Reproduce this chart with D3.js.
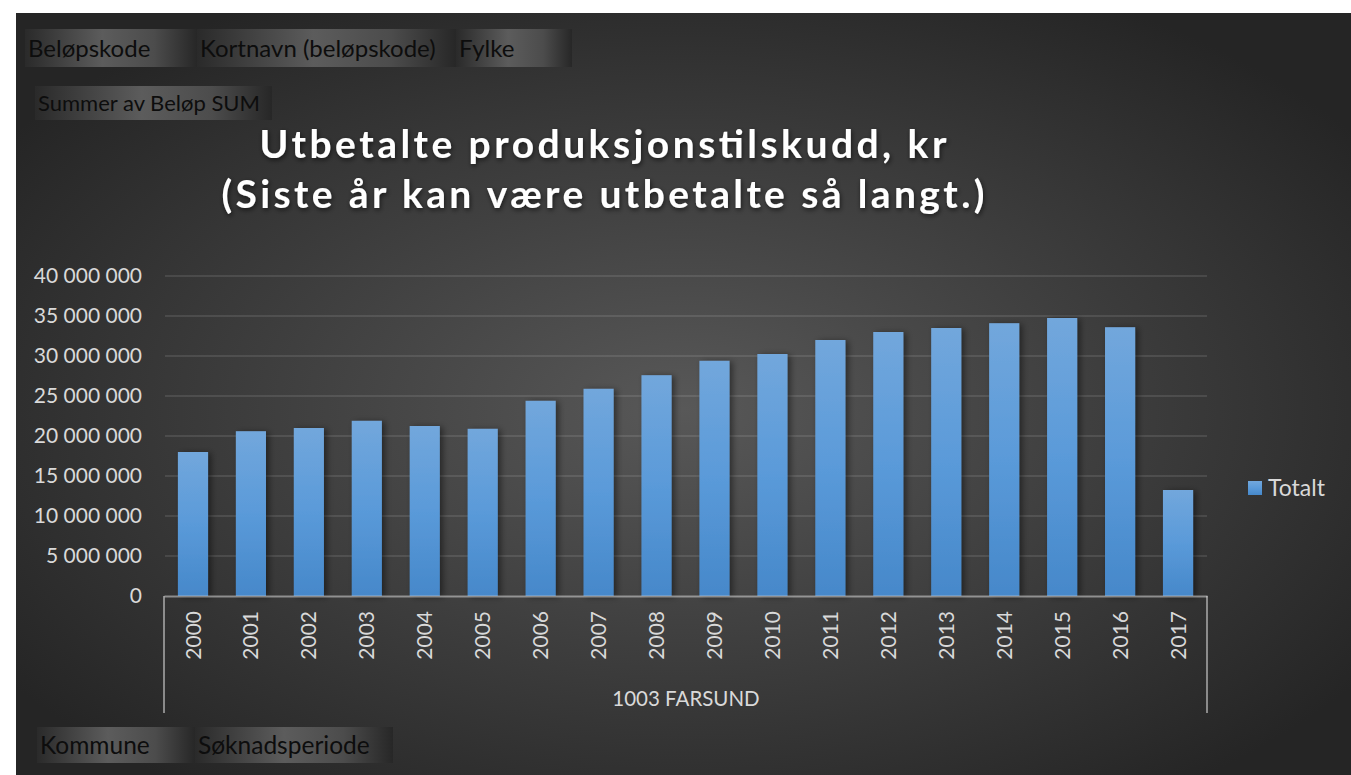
<!DOCTYPE html>
<html>
<head>
<meta charset="utf-8">
<script src="https://cdn.jsdelivr.net/npm/d3@7"></script>
<style>
  body { margin: 0; background: #fff; }
  svg { display: block; }
</style>
</head>
<body>
<svg id="chart" width="1351" height="775"></svg>
<script>
// data
const years = ["2000", "2001", "2002", "2003", "2004", "2005", "2006", "2007", "2008",
    "2009", "2010", "2011", "2012", "2013", "2014", "2015", "2016", "2017"];
const totals = [18000000, 20600000, 21000000, 21900000, 21250000, 20900000, 24400000,
    25900000, 27600000, 29400000, 30250000, 32000000, 33000000, 33500000, 34100000,
    34750000, 33600000, 13250000];
const yTicks = [0, 5000000, 10000000, 15000000, 20000000, 25000000, 30000000, 35000000, 40000000];
const seriesName = "Totalt";
const groupLabel = "1003 FARSUND";
const titleLines = ["Utbetalte produksjonstilskudd, kr", "(Siste år kan være utbetalte så langt.)"];
const topButtons = ["Beløpskode", "Kortnavn (beløpskode)", "Fylke"];
const valueButton = "Summer av Beløp SUM";
const bottomButtons = ["Kommune", "Søknadsperiode"];

const W = 1351, H = 775;
const font = "Lato, 'Open Sans', sans-serif";
const textColor = "#d9d9d9";
const plot = { left: 164, right: 1207, top: 276, bottom: 596 };

const svg = d3.select("#chart");
const defs = svg.append("defs");

// chart background: dark radial gradient
const bg = defs.append("radialGradient").attr("id", "bgGrad")
    .attr("cx", "50%").attr("cy", "52%").attr("r", "62%");
bg.append("stop").attr("offset", "0%").attr("stop-color", "#585858");
bg.append("stop").attr("offset", "100%").attr("stop-color", "#252525");

const barGrad = defs.append("linearGradient").attr("id", "barGrad")
    .attr("x1", 0).attr("y1", 0).attr("x2", 0).attr("y2", 1);
barGrad.append("stop").attr("offset", "0%").attr("stop-color", "#72a7dc");
barGrad.append("stop").attr("offset", "50%").attr("stop-color", "#5a9ad9");
barGrad.append("stop").attr("offset", "100%").attr("stop-color", "#4688ca");

const btnGrad = defs.append("linearGradient").attr("id", "btnGrad")
    .attr("x1", 0).attr("y1", 0).attr("x2", 1).attr("y2", 0);
btnGrad.append("stop").attr("offset", "0%").attr("stop-color", "#2a2a2a");
btnGrad.append("stop").attr("offset", "45%").attr("stop-color", "#5c5c5c");
btnGrad.append("stop").attr("offset", "75%").attr("stop-color", "#4c4c4c");
btnGrad.append("stop").attr("offset", "100%").attr("stop-color", "#272727");

const barShadow = defs.append("filter").attr("id", "barShadow")
    .attr("x", "-30%").attr("y", "-10%").attr("width", "170%").attr("height", "130%");
barShadow.append("feDropShadow").attr("dx", 3).attr("dy", 1).attr("stdDeviation", 3)
    .attr("flood-color", "#000").attr("flood-opacity", 0.45);

const titleShadow = defs.append("filter").attr("id", "titleShadow")
    .attr("x", "-10%").attr("y", "-30%").attr("width", "120%").attr("height", "160%");
titleShadow.append("feDropShadow").attr("dx", 1).attr("dy", 2).attr("stdDeviation", 2.5)
    .attr("flood-color", "#000").attr("flood-opacity", 0.6);

svg.append("rect").attr("x", 16).attr("y", 13).attr("width", W - 16).attr("height", H - 13)
    .attr("fill", "url(#bgGrad)");

// scales
const x = d3.scaleBand().domain(years).range([plot.left, plot.right])
    .paddingInner(0.48).paddingOuter(0.24);
const y = d3.scaleLinear().domain([0, 40000000]).range([plot.bottom, plot.top]);
const fmt = v => d3.format(",")(v).replace(/,/g, " ");

// gridlines
svg.append("g").selectAll("line").data(yTicks.slice(1)).join("line")
    .attr("x1", plot.left + 1).attr("x2", plot.right)
    .attr("y1", d => y(d)).attr("y2", d => y(d))
    .attr("stroke", "#ffffff").attr("stroke-opacity", 0.1).attr("stroke-width", 2);

// y axis labels
svg.append("g")
    .attr("transform", `translate(${plot.left},0)`)
    .call(d3.axisLeft(y).tickValues(yTicks).tickFormat(fmt).tickSize(0).tickPadding(22))
    .call(g => g.select(".domain").remove())
    .selectAll("text")
        .attr("fill", textColor)
        .style("font-family", font)
        .style("font-size", "21px");

// bars
svg.append("g").selectAll("rect").data(years).join("rect")
    .attr("x", d => x(d))
    .attr("y", (d, i) => y(totals[i]))
    .attr("width", x.bandwidth())
    .attr("height", (d, i) => y(0) - y(totals[i]))
    .attr("fill", "url(#barGrad)")
    .attr("filter", "url(#barShadow)");

// category axis with outer group box
const axisStroke = { stroke: "#d9d9d9", opacity: 0.55, width: 2 };
svg.append("g")
    .attr("transform", `translate(0,${plot.bottom})`)
    .call(d3.axisBottom(x).tickSize(0).tickSizeOuter(0))
    .call(g => g.select(".domain")
        .attr("stroke", axisStroke.stroke)
        .attr("stroke-opacity", axisStroke.opacity)
        .attr("stroke-width", axisStroke.width))
    .selectAll("text")
        .attr("fill", textColor)
        .style("font-family", font)
        .style("font-size", "21px")
        .attr("text-anchor", "end")
        .attr("transform", "rotate(-90)")
        .attr("x", -15)
        .attr("y", 0)
        .attr("dy", "0.36em");

svg.append("g").selectAll("line").data([plot.left, plot.right]).join("line")
    .attr("x1", d => d).attr("x2", d => d)
    .attr("y1", plot.bottom).attr("y2", 713)
    .attr("stroke", axisStroke.stroke)
    .attr("stroke-opacity", axisStroke.opacity)
    .attr("stroke-width", axisStroke.width);

svg.append("text")
    .attr("x", 686)
    .attr("y", 699)
    .attr("dy", "0.35em")
    .attr("text-anchor", "middle")
    .attr("fill", textColor)
    .style("font-family", font)
    .style("font-size", "20.5px")
    .text(groupLabel);

// title
const titleWidths = [687, 763];
svg.append("g").attr("filter", "url(#titleShadow)")
    .selectAll("text").data(titleLines).join("text")
    .attr("x", 603)
    .attr("y", (d, i) => 158 + i * 50)
    .attr("text-anchor", "middle")
    .attr("fill", "#ffffff")
    .attr("textLength", (d, i) => titleWidths[i])
    .attr("lengthAdjust", "spacing")
    .style("font-family", font)
    .style("font-weight", "bold")
    .style("font-size", "39px")
    .text(d => d);

// legend
const legend = svg.append("g").attr("transform", "translate(1248,481)");
legend.append("rect").attr("width", 14).attr("height", 14).attr("fill", "url(#barGrad)");
legend.append("text")
    .attr("x", 20).attr("y", 7).attr("dy", "0.36em")
    .attr("fill", textColor)
    .style("font-family", font)
    .style("font-size", "23px")
    .text(seriesName);

// pivot field buttons
function buttonRow(labels, xs, y0, h, size) {
    const g = svg.append("g");
    labels.forEach((label, i) => {
        g.append("rect")
            .attr("x", xs[i]).attr("y", y0)
            .attr("width", xs[i + 1] - xs[i]).attr("height", h)
            .attr("fill", "url(#btnGrad)");
        g.append("text")
            .attr("x", xs[i] + 3).attr("y", y0 + h / 2).attr("dy", "0.36em")
            .attr("fill", "#0d0d0d")
            .style("font-family", font)
            .style("font-size", size)
            .text(label);
    });
}
buttonRow(topButtons, [25, 197, 456, 572], 29, 38, "24px");
buttonRow([valueButton], [35, 272], 86, 34, "22px");
buttonRow(bottomButtons, [37, 195, 393], 727, 36, "24.5px");
</script>
</body>
</html>
